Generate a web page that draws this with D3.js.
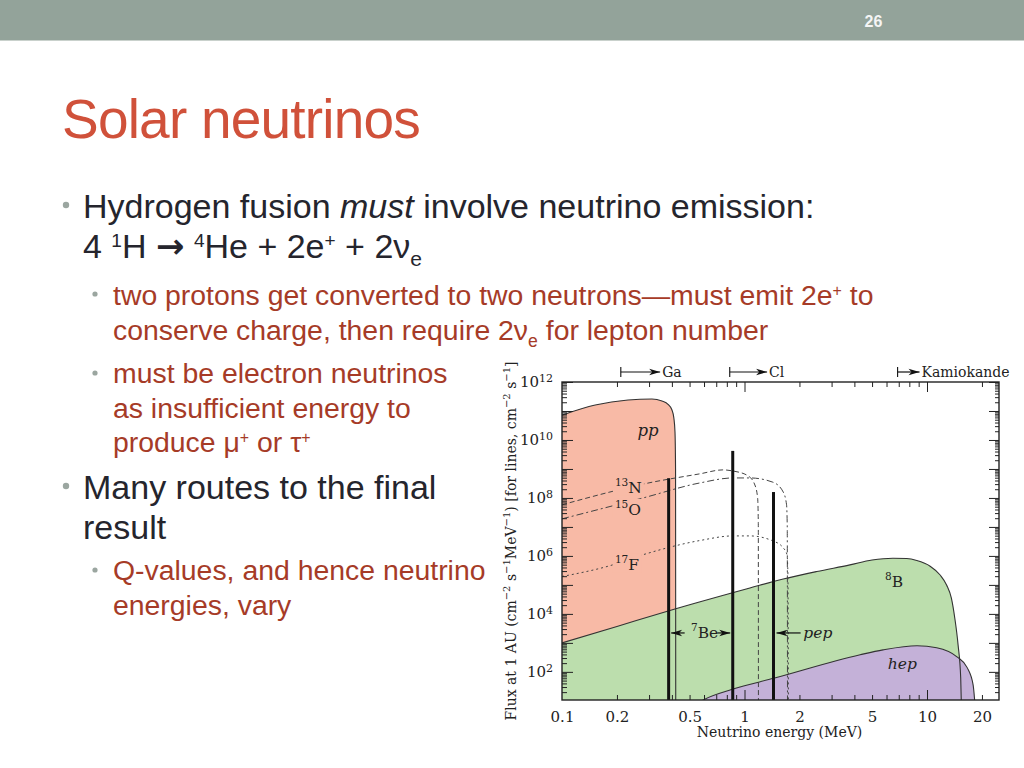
<!DOCTYPE html>
<html><head><meta charset="utf-8">
<script src="https://cdn.jsdelivr.net/npm/d3@7"></script>
<style>
body{margin:0;background:#fff;}
svg{display:block;}
text{white-space:pre;}
</style>
</head><body>
<svg id="c" width="1024" height="768"></svg>
<script>
// ---------------- DATA ----------------
const slideNumber = "26";
const slideTitle = "Solar neutrinos";

// continuum spectra: [energy MeV, flux cm^-2 s^-1 MeV^-1]
const ppSpectrum = [[0.1,7.2e10],[0.152,1.6e11],[0.23,2.4e11],[0.311,2.6e11],[0.353,2.2e11],[0.381,1.7e11],[0.40,1.1e11],[0.41,5.8e10],[0.416,1.9e10],[0.419,1e9],[0.42,5]];
const b8Spectrum = [[0.1,1.0e3],[0.2,3.7e3],[0.42,1.5e4],[1.07,7.8e4],[1.63,1.6e5],[2.49,2.9e5],[3.78,4.9e5],[5.0,7.2e5],[6.5,8.3e5],[7.74,8.1e5],[8.79,6.9e5],[10.4,4.4e5],[11.8,2.2e5],[12.8,1.0e5],[13.6,3.5e4],[14.2,7.1e3],[14.8,850],[15.3,60],[15.45,5]];
const hepSpectrum = [[0.55,8],[0.594,10.7],[0.857,25],[1.445,60],[4.3,390],[5.74,575],[8.82,800],[11.3,680],[14.6,330],[16.6,140],[17.9,35],[18.4,5]];
const n13Spectrum = [[0.1,5.8e7],[0.183,1.6e8],[0.278,3.0e8],[0.57,6.8e8],[0.762,9.3e8],[0.865,8.5e8],[1.045,5.8e8],[1.14,2.8e8],[1.18,1.0e8],[1.19,1.5e7],[1.192,5]];
const o15Spectrum = [[0.1,1.9e7],[0.278,1.0e8],[0.57,3.3e8],[0.865,4.9e8],[1.07,4.9e8],[1.43,3.5e8],[1.63,1.6e8],[1.70,5.8e7],[1.715,1e7],[1.72,5]];
const f17Spectrum = [[0.1,1.95e5],[0.183,4.6e5],[0.278,1.1e6],[0.57,3.4e6],[0.865,4.9e6],[1.07,4.9e6],[1.43,3.3e6],[1.63,1.9e6],[1.71,1.1e6],[1.73,2e5],[1.74,5]];

// line sources
const lineNames = ["7Be","7Be","pep"];
const lineEnergies = [0.384, 0.862, 1.442];
const lineFluxes = [4.8e8, 4.2e9, 1.6e8];

// detector thresholds
const detectorNames = ["Ga","Cl","Kamiokande"];
const detectorThresholds = [0.21, 0.83, 6.9];
const detectorArrowTo = [0.345, 1.33, 9.1];

// ticks
const xTickLabels = [0.1,0.2,0.5,1,2,5,10,20];
const xMajorTicks = [1,10];
const xMinorTicks = [0.2,0.3,0.4,0.5,0.6,0.7,0.8,0.9,2,3,4,5,6,7,8,9,20];
const yDecades = [2,3,4,5,6,7,8,9,10,11,12];
const yLabelExponents = [2,4,6,8,10,12];

// ---------------- SETUP ----------------
const svg = d3.select("#c");
const SANS = "'Liberation Sans', Arial, sans-serif";
const SERIF = "'DejaVu Serif', serif";
const PP = "#f8baa6", GREEN = "#bcdead", PURPLE = "#c4b1d8";

// header bar
svg.append("rect").attr("x",0).attr("y",0).attr("width",1024).attr("height",40.5).attr("fill","#93a39a");
svg.append("text").attr("x",873.5).attr("y",27).attr("text-anchor","middle")
  .attr("font-family",SANS).attr("font-weight","bold").attr("font-size",16).attr("fill","#f5f5f5").text(slideNumber);

// title
svg.append("text").attr("x",62).attr("y",138).attr("font-family",SANS).attr("font-size",55)
  .attr("letter-spacing","-0.8").attr("fill","#d0513a").text(slideTitle);

function rich(parent, x, y, parts, fs, fill, family){
  const t = parent.append("text").attr("x",x).attr("y",y).attr("font-size",fs).attr("fill",fill).attr("font-family",family);
  let off = 0;
  parts.forEach(p=>{
    const s = p[0], k = p[1]||"n";
    const sp = t.append("tspan").text(s);
    let target = 0, size = fs;
    if (k==="sup"){ target = -0.33*fs; size = 0.56*fs; }
    else if (k==="sub"){ target = 0.24*fs; size = 0.62*fs; }
    if (k==="i") sp.attr("font-style","italic");
    if (k==="arrow") sp.attr("font-weight","bold").attr("font-family","'DejaVu Sans', sans-serif");
    if (size!==fs) sp.attr("font-size",size);
    if (target-off!==0) sp.attr("dy",target-off);
    off = target;
  });
  return t;
}

const BODY = "#25252d", SUB = "#a63b27", DOT = "#9ba6a0";
const slide = svg.append("g");
function dot(x,y,r){ slide.append("circle").attr("cx",x).attr("cy",y).attr("r",r).attr("fill",DOT); }

dot(66,205,3.2);
rich(slide,83,218,[["Hydrogen fusion "],["must","i"],[" involve neutrino emission:"]],34,BODY,SANS);
rich(slide,83,258,[["4 "],["1","sup"],["H "],["\u2192","arrow"],[" "],["4","sup"],["He + 2e"],["+","sup"],[" + 2\u03BD"],["e","sub"]],34,BODY,SANS);

dot(95,294,2.6);
rich(slide,113,305,[["two protons get converted to two neutrons\u2014must emit 2e"],["+","sup"],[" to"]],28.4,SUB,SANS);
rich(slide,113,340,[["conserve charge, then require 2\u03BD"],["e","sub"],[" for lepton number"]],28.4,SUB,SANS);

dot(95,373,2.6);
rich(slide,113,383,[["must be electron neutrinos"]],28.4,SUB,SANS);
rich(slide,113,418,[["as insufficient energy to"]],28.4,SUB,SANS);
rich(slide,113,452,[["produce \u03BC"],["+","sup"],[" or \u03C4"],["+","sup"]],28.4,SUB,SANS);

dot(66,486,3.2);
rich(slide,83,499,[["Many routes to the final"]],34,BODY,SANS);
rich(slide,83,539,[["result"]],34,BODY,SANS);

dot(95,570,2.6);
rich(slide,113,580,[["Q-values, and hence neutrino"]],28.4,SUB,SANS);
rich(slide,113,615,[["energies, vary"]],28.4,SUB,SANS);

// ---------------- CHART ----------------
const x = d3.scaleLog().domain([0.1, 24.8]).range([562, 999]);
const y = d3.scaleLog().domain([10.7, 1e12]).range([700, 382]);
const [X0,X1] = x.range(), [Y0,Y1] = y.range();

const chart = svg.append("g");
chart.append("rect").attr("x",X0).attr("y",Y1).attr("width",X1-X0).attr("height",Y0-Y1).attr("fill","#fff");
chart.append("clipPath").attr("id","plotclip").append("rect").attr("x",X0).attr("y",Y1).attr("width",X1-X0).attr("height",Y0-Y1);
const plot = chart.append("g").attr("clip-path","url(#plotclip)");

const area = d3.area().x(d=>x(d[0])).y0(Y0+5).y1(d=>y(d[1])).curve(d3.curveMonotoneX);
const line = d3.line().x(d=>x(d[0])).y(d=>y(d[1])).curve(d3.curveMonotoneX);

plot.append("path").attr("d",area(ppSpectrum)).attr("fill",PP);
plot.append("path").attr("d",area(b8Spectrum)).attr("fill",GREEN);
plot.append("path").attr("d",area(hepSpectrum)).attr("fill",PURPLE);

[ppSpectrum,b8Spectrum,hepSpectrum].forEach(s=>{
  plot.append("path").attr("d",line(s)).attr("fill","none").attr("stroke","#333").attr("stroke-width",1.1);
});

plot.append("path").attr("d",line(n13Spectrum)).attr("fill","none").attr("stroke","#444").attr("stroke-width",1).attr("stroke-dasharray","5,3");
plot.append("path").attr("d",line(o15Spectrum)).attr("fill","none").attr("stroke","#444").attr("stroke-width",1).attr("stroke-dasharray","7,3,2,3");
plot.append("path").attr("d",line(f17Spectrum)).attr("fill","none").attr("stroke","#444").attr("stroke-width",1).attr("stroke-dasharray","2,3");

// lines
lineEnergies.forEach((e,i)=>{
  plot.append("line").attr("x1",x(e)).attr("x2",x(e)).attr("y1",Y0).attr("y2",y(lineFluxes[i]))
    .attr("stroke","#111").attr("stroke-width",3);
});

// label helper in chart
function clabel(px,py,parts,fs,opts){
  opts = opts||{};
  const t = chart.append("text").attr("x",px).attr("y",py).attr("font-family",SERIF).attr("font-size",fs).attr("fill","#222");
  if (opts.anchor) t.attr("text-anchor",opts.anchor);
  let off=0;
  parts.forEach(p=>{
    const sp = t.append("tspan").text(p[0]);
    let target=0;
    if (p[1]==="sup"){ target=-0.45*fs; sp.attr("font-size",fs*0.68); }
    if (p[1]==="i") sp.attr("font-style","italic");
    if (target-off!==0) sp.attr("dy",target-off);
    off=target;
  });
  if (opts.bg){
    const b = t.node().getBBox();
    chart.insert("rect", function(){ return t.node(); })
      .attr("x",b.x-2).attr("y",b.y+1).attr("width",b.width+4).attr("height",b.height-2).attr("fill",opts.bg);
  }
  return t;
}

clabel(x(0.296), y(2.1e10)+5, [["pp","i"]], 16.5, {anchor:"middle"});
clabel(x(0.195), y(1.5e8), [["13","sup"],["N"]], 15.5, {bg:PP});
clabel(x(0.195), y(2.6e7), [["15","sup"],["O"]], 15.5, {bg:PP});
clabel(x(0.195), y(3.3e5), [["17","sup"],["F"]], 15.5, {bg:PP});
clabel(x(5.89), y(8.5e4), [["8","sup"],["B"]], 15.5);
clabel(x(6.1), y(125), [["hep","i"]], 15.5);

// arrows
function head(px,py,dir){
  chart.append("path").attr("d",`M${px},${py} L${px-dir*11},${py-3.2} L${px-dir*8},${py} L${px-dir*11},${py+3.2} Z`).attr("fill","#111");
}
function harrow(xa,xb,py){ // from xa to tip xb
  chart.append("line").attr("x1",xa).attr("x2",xb).attr("y1",py).attr("y2",py).attr("stroke","#111").attr("stroke-width",1.2);
  head(xb,py,Math.sign(xb-xa));
}
const beY = y(2.2e3);
harrow(x(0.47), x(lineEnergies[0])+2.5, beY);
clabel(x(0.509), beY+5, [["7","sup"],["Be"]], 15.5);
harrow(x(0.71), x(lineEnergies[1])-2.5, beY);
harrow(x(2.03), x(lineEnergies[2])+3, beY);
clabel(x(2.1), beY+5, [["pep","i"]], 15.5);

// detector thresholds on top
detectorNames.forEach((n,i)=>{
  const xa = x(detectorThresholds[i]), xb = x(detectorArrowTo[i]), py = 372;
  chart.append("line").attr("x1",xa).attr("x2",xa).attr("y1",py-5).attr("y2",py+5).attr("stroke","#111").attr("stroke-width",1.1);
  harrow(xa, xb, py);
  chart.append("text").attr("x",xb+2).attr("y",py+5).attr("font-family",SERIF).attr("font-size",14).attr("fill","#222").text(n);
});

// axes ticks
function strip(g){ g.select(".domain").remove(); g.selectAll(".tick line").attr("stroke","#222").attr("stroke-width",1); }
const yMajorVals = yDecades.map(e=>Math.pow(10,e));
const yMinorVals = [];
for (let e=1;e<12;e++) for (let k=2;k<=9;k++){ const v=k*Math.pow(10,e); if (v>=y.domain()[0] && v<=1e12) yMinorVals.push(v); }

chart.append("g").attr("transform",`translate(${X0},0)`).call(d3.axisLeft(y).tickValues(yMinorVals).tickSize(-5).tickFormat(()=>"")).call(strip);
chart.append("g").attr("transform",`translate(${X1},0)`).call(d3.axisRight(y).tickValues(yMinorVals).tickSize(-4).tickFormat(()=>"")).call(strip);
chart.append("g").attr("transform",`translate(${X1},0)`).call(d3.axisRight(y).tickValues(yMajorVals).tickSize(-10).tickFormat(()=>"")).call(strip);
const yl = chart.append("g").attr("transform",`translate(${X0},0)`)
  .call(d3.axisLeft(y).tickValues(yMajorVals).tickSize(-11).tickPadding(9).tickFormat(()=>"")).call(strip);
yl.selectAll(".tick text").each(function(d){
  const e = Math.round(Math.log10(d));
  if (yLabelExponents.indexOf(e)<0) return;
  const t = d3.select(this).attr("font-family",SERIF).attr("font-size",15).attr("fill","#222");
  t.text("10");
  t.append("tspan").attr("dy","-0.5em").attr("font-size",11).text(e);
});

chart.append("g").attr("transform",`translate(0,${Y0})`).call(d3.axisBottom(x).tickValues(xMinorTicks).tickSize(-5).tickFormat(()=>"")).call(strip);
chart.append("g").attr("transform",`translate(0,${Y0})`).call(d3.axisBottom(x).tickValues(xMajorTicks).tickSize(-10).tickFormat(()=>"")).call(strip);
chart.append("g").attr("transform",`translate(0,${Y1})`).call(d3.axisTop(x).tickValues(xMinorTicks).tickSize(-5).tickFormat(()=>"")).call(strip);
chart.append("g").attr("transform",`translate(0,${Y1})`).call(d3.axisTop(x).tickValues(xMajorTicks).tickSize(-10).tickFormat(()=>"")).call(strip);
const xl = chart.append("g").attr("transform",`translate(0,${Y0})`)
  .call(d3.axisBottom(x).tickValues(xTickLabels).tickSize(0).tickPadding(11).tickFormat(d=>String(d)));
xl.select(".domain").remove();
xl.selectAll(".tick text").attr("font-family",SERIF).attr("font-size",15).attr("fill","#222");

// frame
chart.append("rect").attr("x",X0).attr("y",Y1).attr("width",X1-X0).attr("height",Y0-Y1)
  .attr("fill","none").attr("stroke","#222").attr("stroke-width",1.4);

// axis titles
chart.append("text").attr("x",(X0+X1)/2-1).attr("y",737).attr("text-anchor","middle")
  .attr("font-family",SERIF).attr("font-size",14).attr("fill","#222").text("Neutrino energy (MeV)");

const yt = chart.append("text").attr("transform","translate(516,541) rotate(-90)").attr("text-anchor","middle")
  .attr("font-family",SERIF).attr("font-size",14).attr("fill","#222");
const ytParts = [["Flux at 1 AU (cm"],["\u22122","sup"],[" s"],["\u22121","sup"],["MeV"],["\u22121","sup"],[") [for lines, cm"],["\u22122","sup"],[" s"],["\u22121","sup"],["]"]];
let yoff=0;
ytParts.forEach(p=>{
  const sp = yt.append("tspan").text(p[0]);
  const target = p[1]==="sup" ? -6 : 0;
  if (p[1]==="sup") sp.attr("font-size",10);
  if (target-yoff!==0) sp.attr("dy",target-yoff);
  yoff=target;
});
</script>
</body></html>
